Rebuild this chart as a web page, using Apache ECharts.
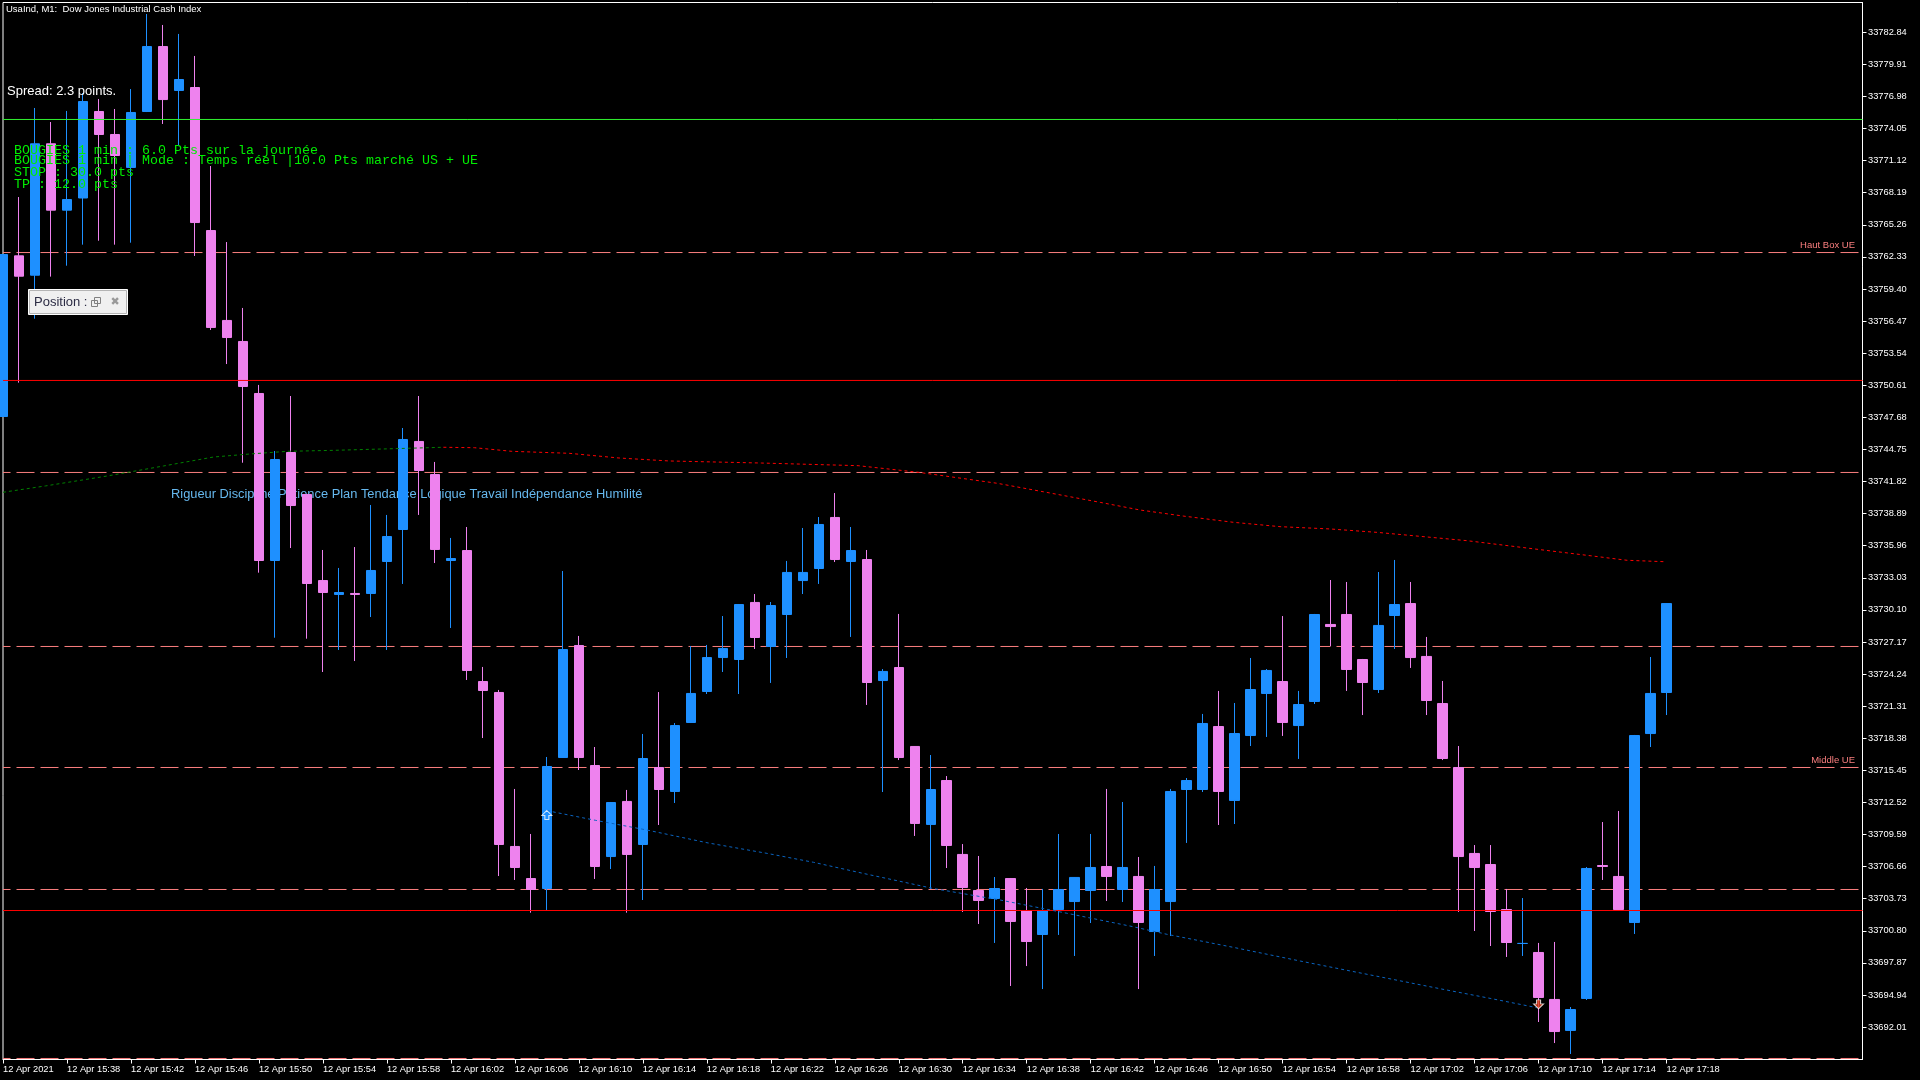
<!DOCTYPE html>
<html>
<head>
<meta charset="utf-8">
<style>
html, body { margin: 0; padding: 0; background: #000; }
#chart { width: 1920px; height: 1080px; }
</style>
<script src="https://cdn.jsdelivr.net/npm/echarts@6/dist/echarts.min.js"></script>
</head>
<body>
<div id="chart"></div>
<script>
// one candle per minute, x = minutes since 15:34
var opens = [33747.76,33762.43,33760.66,33772.66,33766.60,33767.71,33775.61,33773.51,33770.50,33775.61,33781.54,33777.53,33777.80,33764.74,33756.53,33754.61,33749.86,33734.61,33744.47,33740.64,33732.78,33731.51,33731.60,33731.60,33734.52,33737.44,33745.48,33742.46,33734.61,33735.52,33723.56,33722.56,33708.50,33705.57,33704.66,33716.62,33726.85,33715.89,33707.58,33712.61,33708.68,33715.71,33713.52,33719.82,33722.65,33725.75,33725.57,33730.78,33726.76,33729.68,33732.78,33733.88,33738.54,33734.52,33734.70,33723.65,33724.84,33717.63,33710.51,33714.52,33707.77,33704.48,33703.75,33705.57,33702.65,33700.46,33702.74,33703.47,33704.48,33706.67,33704.57,33705.76,33700.73,33703.47,33713.70,33713.70,33719.45,33712.70,33718.63,33722.47,33723.56,33719.54,33721.74,33728.77,33729.68,33725.57,33722.83,33729.59,33730.68,33725.85,33721.55,33715.71,33707.86,33706.85,33702.74,33699.64,33698.82,33694.53,33691.70,33694.62,33706.76,33705.76,33701.56,33718.81,33722.56];
var closes = [33762.55,33760.57,33772.66,33766.60,33767.57,33776.52,33773.51,33771.59,33775.52,33781.54,33776.70,33778.53,33765.47,33755.89,33754.97,33750.50,33734.61,33743.83,33739.63,33732.51,33731.69,33731.69,33731.51,33733.70,33736.80,33745.66,33742.83,33735.62,33734.79,33724.57,33722.74,33708.68,33706.58,33704.57,33715.80,33726.48,33716.62,33706.67,33712.51,33707.77,33716.53,33713.70,33719.54,33722.47,33725.75,33726.58,33730.59,33727.58,33730.50,33733.52,33733.52,33737.90,33734.70,33735.52,33723.47,33724.48,33716.62,33710.60,33713.70,33708.59,33704.75,33703.57,33704.66,33701.65,33699.82,33702.65,33704.57,33705.67,33706.58,33705.76,33706.58,33701.56,33704.57,33713.52,33714.52,33719.73,33713.52,33718.81,33722.83,33724.57,33719.82,33721.46,33729.68,33728.58,33724.66,33723.47,33728.68,33730.59,33725.75,33721.83,33716.53,33707.58,33706.58,33702.56,33699.73,33699.65,33694.71,33691.60,33693.61,33706.49,33706.67,33702.74,33718.63,33722.47,33730.68];
var lows = [33747.76,33750.85,33756.69,33760.53,33761.53,33763.45,33763.81,33763.45,33763.63,33775.56,33774.47,33772.55,33762.42,33755.66,33752.55,33743.54,33733.50,33727.56,33735.75,33727.47,33724.43,33726.44,33725.43,33729.45,33726.44,33732.47,33738.77,33734.38,33728.45,33723.70,33718.40,33705.80,33705.44,33702.45,33702.70,33716.58,33715.48,33705.53,33706.44,33702.45,33703.61,33710.46,33712.47,33719.77,33722.42,33724.43,33722.42,33726.53,33723.43,33725.71,33731.55,33732.47,33734.47,33727.63,33721.42,33713.47,33716.39,33709.46,33704.62,33706.53,33702.52,33701.42,33699.69,33695.76,33697.58,33695.48,33700.42,33698.50,33701.51,33703.52,33703.43,33695.48,33698.50,33700.32,33708.82,33713.47,33710.46,33710.55,33717.67,33718.50,33718.59,33716.49,33721.51,33726.80,33722.70,33720.50,33722.51,33726.53,33724.80,33720.50,33716.39,33702.52,33700.78,33699.41,33698.41,33698.50,33692.47,33690.55,33689.55,33694.48,33705.44,33702.70,33700.51,33717.58,33720.50];
var highs = [33762.55,33767.80,33775.93,33774.65,33775.66,33777.30,33776.75,33775.84,33777.66,33784.51,33783.51,33782.69,33780.68,33770.63,33763.69,33757.67,33750.64,33744.61,33749.63,33740.68,33735.57,33733.93,33735.84,33739.68,33738.77,33746.71,33749.63,33743.61,33736.67,33737.67,33724.89,33722.79,33713.75,33709.64,33716.67,33733.65,33727.72,33717.58,33712.56,33713.66,33718.77,33722.60,33719.77,33726.80,33726.90,33729.54,33730.64,33731.55,33730.82,33734.57,33737.58,33738.58,33740.77,33737.67,33735.57,33724.70,33729.73,33717.67,33716.85,33714.93,33708.72,33707.63,33705.71,33705.62,33704.71,33704.62,33709.64,33705.71,33709.64,33713.75,33712.56,33707.54,33706.72,33713.75,33714.75,33720.60,33722.70,33721.60,33725.71,33724.70,33729.54,33722.70,33729.73,33732.83,33732.65,33725.62,33733.56,33734.66,33732.65,33727.63,33723.61,33717.67,33708.63,33708.63,33704.62,33703.79,33699.69,33699.78,33693.84,33706.62,33710.73,33711.74,33718.68,33725.80,33730.73];

var yTicks = [33692.01,33694.94,33697.87,33700.80,33703.73,33706.66,33709.59,33712.52,33715.45,33718.38,33721.31,33724.24,33727.17,33730.10,33733.03,33735.96,33738.89,33741.82,33744.75,33747.68,33750.61,33753.54,33756.47,33759.40,33762.33,33765.26,33768.19,33771.12,33774.05,33776.98,33779.91,33782.84];
var xTicks = [0,4,8,12,16,20,24,28,32,36,40,44,48,52,56,60,64,68,72,76,80,84,88,92,96,100,104];
var xLabels = ['12 Apr 2021','12 Apr 15:38','12 Apr 15:42','12 Apr 15:46','12 Apr 15:50','12 Apr 15:54','12 Apr 15:58','12 Apr 16:02','12 Apr 16:06','12 Apr 16:10','12 Apr 16:14','12 Apr 16:18','12 Apr 16:22','12 Apr 16:26','12 Apr 16:30','12 Apr 16:34','12 Apr 16:38','12 Apr 16:42','12 Apr 16:46','12 Apr 16:50','12 Apr 16:54','12 Apr 16:58','12 Apr 17:02','12 Apr 17:06','12 Apr 17:10','12 Apr 17:14','12 Apr 17:18'];

// horizontal levels
var dashLevels = [33762.73,33742.65,33726.76,33715.71,33704.57,33689.14];
var solidLevels = [33774.88,33751.05,33702.65];
var solidColors = ['#30f030','#ff0000','#ff0000'];

// moving average, green while rising then red
var maGreen = [[0,33740.84],[2.66,33741.42],[6.53,33742.33],[10.03,33743.24],[13.16,33744.06],[15.47,33744.34],[17.78,33744.58],[20.66,33744.67],[24.41,33744.82],[27.53,33744.95]];
var maRed = [[27.53,33744.95],[29.47,33744.91],[31.81,33744.58],[35.38,33744.40],[38.51,33743.97],[41.63,33743.70],[47.43,33743.51],[53.46,33743.27],[57.26,33742.66],[62.16,33741.66],[65.03,33740.89],[68.59,33739.92],[71.09,33739.22],[73.78,33738.67],[76.91,33738.10],[79.84,33737.70],[82.97,33737.49],[85.91,33737.18],[91.53,33736.42],[96.28,33735.57],[99.22,33735.05],[101.53,33734.63],[103.9,33734.50]];
// dotted line between the two trades
var tradeLine = [[34,33711.77],[37.03,33710.89],[40.26,33710.00],[44.01,33708.84],[47.76,33707.87],[50.68,33707.05],[53.78,33706.04],[58.16,33704.66],[62.34,33703.61],[66.51,33702.40],[70.66,33701.17],[72.76,33700.48],[76.91,33699.29],[81.09,33698.04],[85.89,33696.65],[89.84,33695.51],[92.97,33694.63],[95.89,33693.78]];
var buyMark = [[34,33711.37]];
var sellMark = [[96,33694.08]];

var candleData = opens.map(function (o, i) {
    return [i, o, closes[i], lows[i], highs[i]];
});

var series = [{
    type: 'candlestick',
    data: candleData,
    barWidth: 10,
    z: 2,
    itemStyle: {
        color: '#1e90ff',
        borderColor: '#1e90ff',
        color0: '#ee82ee',
        borderColor0: '#ee82ee',
        borderWidth: 1
    }
}];

dashLevels.forEach(function (level) {
    series.push({
        type: 'line',
        data: [[0, level], [116, level]],
        symbol: 'none',
        silent: true,
        z: 1,
        lineStyle: { color: '#fa7f7f', width: 1, type: [18, 6], dashOffset: 10.5 }
    });
});

solidLevels.forEach(function (level, i) {
    series.push({
        type: 'line',
        data: [[0, level], [116.25, level]],
        symbol: 'none',
        silent: true,
        z: 3,
        lineStyle: { color: solidColors[i], width: 1 }
    });
});

function dotted(data, color) {
    return {
        type: 'line',
        data: data,
        symbol: 'none',
        silent: true,
        z: 3,
        lineStyle: { color: color, width: 1, type: [3, 3] }
    };
}
series.push(dotted(maGreen, '#008000'));
series.push(dotted(maRed, '#ff0000'));
series.push(dotted(tradeLine, '#0a64c0'));

// trade arrows
series.push({
    type: 'scatter',
    data: buyMark,
    symbol: 'path://M5 0 L10 5 L7 5 L7 9 L3 9 L3 5 L0 5 Z',
    symbolSize: [10, 9],
    z: 4,
    itemStyle: { color: '#1e90ff', borderColor: '#fff', borderWidth: 1 }
});
series.push({
    type: 'scatter',
    data: sellMark,
    symbol: 'path://M3 0 L7 0 L7 4 L10 4 L5 9 L0 4 L3 4 Z',
    symbolSize: [10, 9],
    z: 4,
    itemStyle: { color: '#e0401c', borderColor: '#fff', borderWidth: 1 }
});

var sansFont = '"Liberation Sans", Arial, sans-serif';
var greenFill = '#00ee00';
var greenFont = '13.33px "Liberation Mono", monospace';

function label(x, y, text, fill, font, z, align) {
    return {
        type: 'text',
        x: x,
        y: y,
        z: z,
        silent: true,
        style: { text: text, fill: fill, font: font, textAlign: align || 'left', textVerticalAlign: 'middle' }
    };
}

var option = {
    animation: false,
    backgroundColor: '#000',
    grid: {
        left: 2.5, right: 57.5, top: 2.5, bottom: 20.5,
        show: true, borderColor: '#fff', borderWidth: 1, backgroundColor: 'transparent'
    },
    xAxis: {
        type: 'value',
        min: 0,
        max: 116.25,
        splitLine: { show: false },
        axisLine: { show: true, onZero: false, lineStyle: { color: '#fff' } },
        axisTick: { show: true, customValues: xTicks, length: 4, inside: false, lineStyle: { color: '#fff' } },
        axisLabel: {
            customValues: xTicks,
            color: '#fff',
            fontFamily: sansFont,
            fontSize: 9.3,
            margin: 5,
            align: 'left',
            showMinLabel: true,
            showMaxLabel: true,
            formatter: function (v) { return xLabels[xTicks.indexOf(v)] || ''; }
        }
    },
    yAxis: {
        type: 'value',
        position: 'right',
        min: 33689.047,
        max: 33785.5617,
        splitLine: { show: false },
        axisLine: { show: true, onZero: false, lineStyle: { color: '#fff' } },
        axisTick: { show: true, customValues: yTicks, length: 4, lineStyle: { color: '#fff' } },
        axisLabel: {
            customValues: yTicks,
            color: '#fff',
            fontFamily: sansFont,
            fontSize: 9.3,
            margin: 5.5,
            formatter: function (v) { return v.toFixed(2); }
        }
    },
    series: series,
    graphic: { elements: [
        label(6, 9.5, 'UsaInd, M1:  Dow Jones Industrial Cash Index', '#fff', '9.5px ' + sansFont, 5),
        label(7, 91, 'Spread: 2.3 points.', '#fff', '13px ' + sansFont, 5),
        label(14, 150, 'BOUGIES 1 min : 6.0 Pts sur la journée', greenFill, greenFont, 5),
        label(14, 160, 'BOUGIES 1 min | Mode : Temps réel |10.0 Pts marché US + UE', greenFill, greenFont, 5),
        label(14, 172, 'STOP : 30.0 pts', greenFill, greenFont, 5),
        label(14, 184, 'TP : 12.0 pts', greenFill, greenFont, 5),
        label(171, 494, 'Rigueur Discipline Patience Plan Tendance Logique Travail Indépendance Humilité', '#66b8ee', '12.85px ' + sansFont, 0),
        label(1855, 245.5, 'Haut Box UE', '#fa7f7f', '9.5px ' + sansFont, 5, 'right'),
        label(1855, 760.5, 'Middle UE', '#fa7f7f', '9.5px ' + sansFont, 5, 'right'),
        // position window
        { type: 'rect', z: 6, silent: true, shape: { x: 28.5, y: 289.5, width: 99, height: 25 }, style: { fill: '#fff', stroke: '#fff' } },
        { type: 'rect', z: 6, silent: true, shape: { x: 29.5, y: 290.5, width: 97, height: 23 }, style: { fill: '#f0f0f0', stroke: '#b4b4b4' } },
        label(34, 302.5, 'Position :', '#2c2c44', '13px ' + sansFont, 7),
        { type: 'rect', z: 7, silent: true, shape: { x: 91.5, y: 300.5, width: 6, height: 6 }, style: { fill: '#f0f0f0', stroke: '#808080' } },
        { type: 'rect', z: 7, silent: true, shape: { x: 94.5, y: 297.5, width: 6, height: 6 }, style: { fill: 'transparent', stroke: '#808080' } },
        label(115, 302, '✖', '#999', '11px "DejaVu Sans"', 7, 'center')
    ] }
};

var myChart = echarts.init(document.getElementById('chart'));
myChart.setOption(option);
</script>
</body>
</html>
